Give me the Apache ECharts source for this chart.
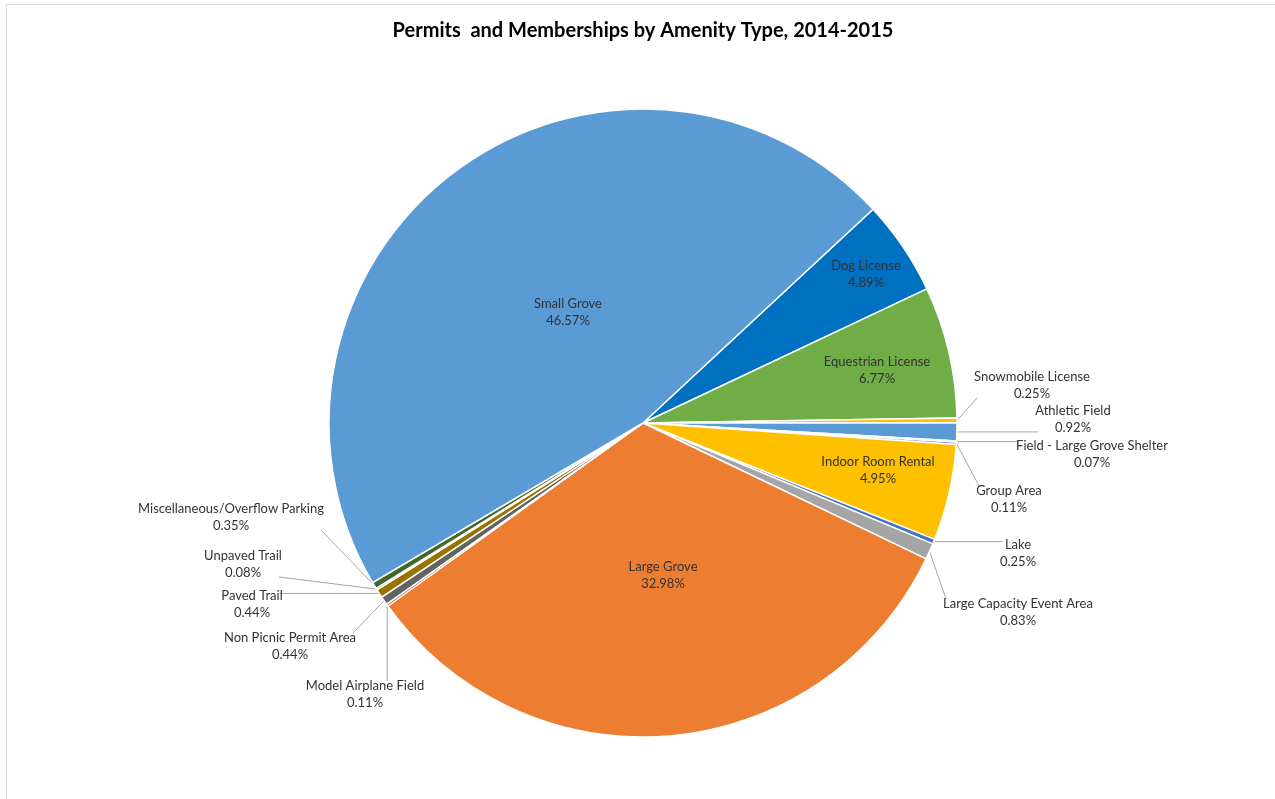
<!DOCTYPE html>
<html>
<head>
<meta charset="utf-8">
<title>Permits and Memberships by Amenity Type, 2014-2015</title>
<script src="https://cdn.jsdelivr.net/npm/echarts@6/dist/echarts.min.js"></script>
<style>
  html, body { margin: 0; padding: 0; background: #ffffff; }
  #frame {
    position: absolute; left: 6px; top: 4px; width: 1269px; height: 795px;
    border-left: 1px solid #d9d9d9; border-top: 1px solid #d9d9d9;
  }
  #chart { position: absolute; left: 0; top: 0; width: 1275px; height: 799px; }
</style>
</head>
<body>
<div id="frame"></div>
<div id="chart"></div>
<script>
// Amenity types, listed clockwise starting from Dog License
const categories = [
  'Dog License', 'Equestrian License', 'Snowmobile License', 'Athletic Field',
  'Field - Large Grove Shelter', 'Group Area', 'Indoor Room Rental', 'Lake',
  'Large Capacity Event Area', 'Large Grove', 'Model Airplane Field',
  'Non Picnic Permit Area', 'Paved Trail', 'Unpaved Trail',
  'Miscellaneous/Overflow Parking', 'Small Grove'
];
// Share of permits and memberships, percent
const shares = [
  4.89, 6.77, 0.25, 0.92,
  0.07, 0.11, 4.95, 0.25,
  0.83, 32.98, 0.11,
  0.44, 0.44, 0.08,
  0.35, 46.57
];
// Slices whose label sits inside the slice
const insideLabels = ['Dog License', 'Equestrian License', 'Indoor Room Rental', 'Large Grove', 'Small Grove'];

// Slice fill colours
const sliceColors = [
  '#0070C0', '#70AD47', '#FFC000', '#5B9BD5',
  '#A5A5A5', '#4472C4', '#FFC000', '#4472C4',
  '#A5A5A5', '#ED7D31', '#9E480E',
  '#636363', '#997300', '#264478',
  '#43682B', '#5B9BD5'
];
// Label block centres (px), same order as categories
const labelCenters = [
  [866, 274], [877, 370], [1032, 385], [1073, 419],
  [1092, 454], [1009, 499], [878, 470], [1018, 553],
  [1018, 612], [663, 575], [365, 694],
  [290, 646], [252, 604], [243, 564],
  [231, 517], [568, 312]
];

const FONT = 'Lato, "Open Sans", "Liberation Sans", sans-serif';

const seriesData = categories.map(function (name, i) {
  const inside = insideLabels.indexOf(name) >= 0;
  return {
    name: name,
    value: shares[i],
    itemStyle: { color: sliceColors[i] },
    label: { position: inside ? 'inside' : 'outside' },
    labelLine: { show: !inside }
  };
});

const chart = echarts.init(document.getElementById('chart'), null, { renderer: 'canvas' });

chart.setOption({
  backgroundColor: 'transparent',
  animation: false,
  graphic: [{
    type: 'text',
    x: 643, y: 31,
    style: {
      text: 'Permits  and Memberships by Amenity Type, 2014-2015',
      fill: '#000000',
      font: 'bold 20px ' + FONT,
      align: 'center',
      verticalAlign: 'middle'
    }
  }],
  series: [{
    type: 'pie',
    center: [643, 423],
    radius: [0, 314],
    startAngle: 42.9,
    clockwise: true,
    avoidLabelOverlap: false,
    minShowLabelAngle: 0,
    itemStyle: { borderColor: '#ffffff', borderWidth: 1.5 },
    emphasis: { disabled: true },
    label: {
      show: true,
      color: '#333333',
      fontFamily: FONT,
      fontSize: 13,
      lineHeight: 17,
      align: 'center',
      formatter: function (p) {
        return p.name + '\n' + p.value.toFixed(2) + '%';
      }
    },
    labelLine: {
      length: 8,
      length2: 0,
      lineStyle: { color: '#a6a6a6', width: 1 }
    },
    labelLayout: function (params) {
      const i = params.dataIndex;
      const c = labelCenters[i];
      const out = { x: c[0], y: c[1], align: 'center', verticalAlign: 'middle' };
      const isInside = insideLabels.indexOf(categories[i]) >= 0;
      const pts = params.labelLinePoints;
      if (!isInside && pts && pts.length) {
        // leader line from the slice edge to the nearest side of the label block
        const w = params.labelRect.width - 6, h = params.labelRect.height - 8;
        const p0 = pts[0];
        const ex = Math.min(Math.max(p0[0], c[0] - w / 2), c[0] + w / 2);
        const ey = Math.min(Math.max(p0[1], c[1] - h / 2), c[1] + h / 2);
        out.labelLinePoints = [[p0[0], p0[1]], [ex, ey], [ex, ey]];
      }
      return out;
    },
    data: seriesData
  }]
});
</script>
</body>
</html>
